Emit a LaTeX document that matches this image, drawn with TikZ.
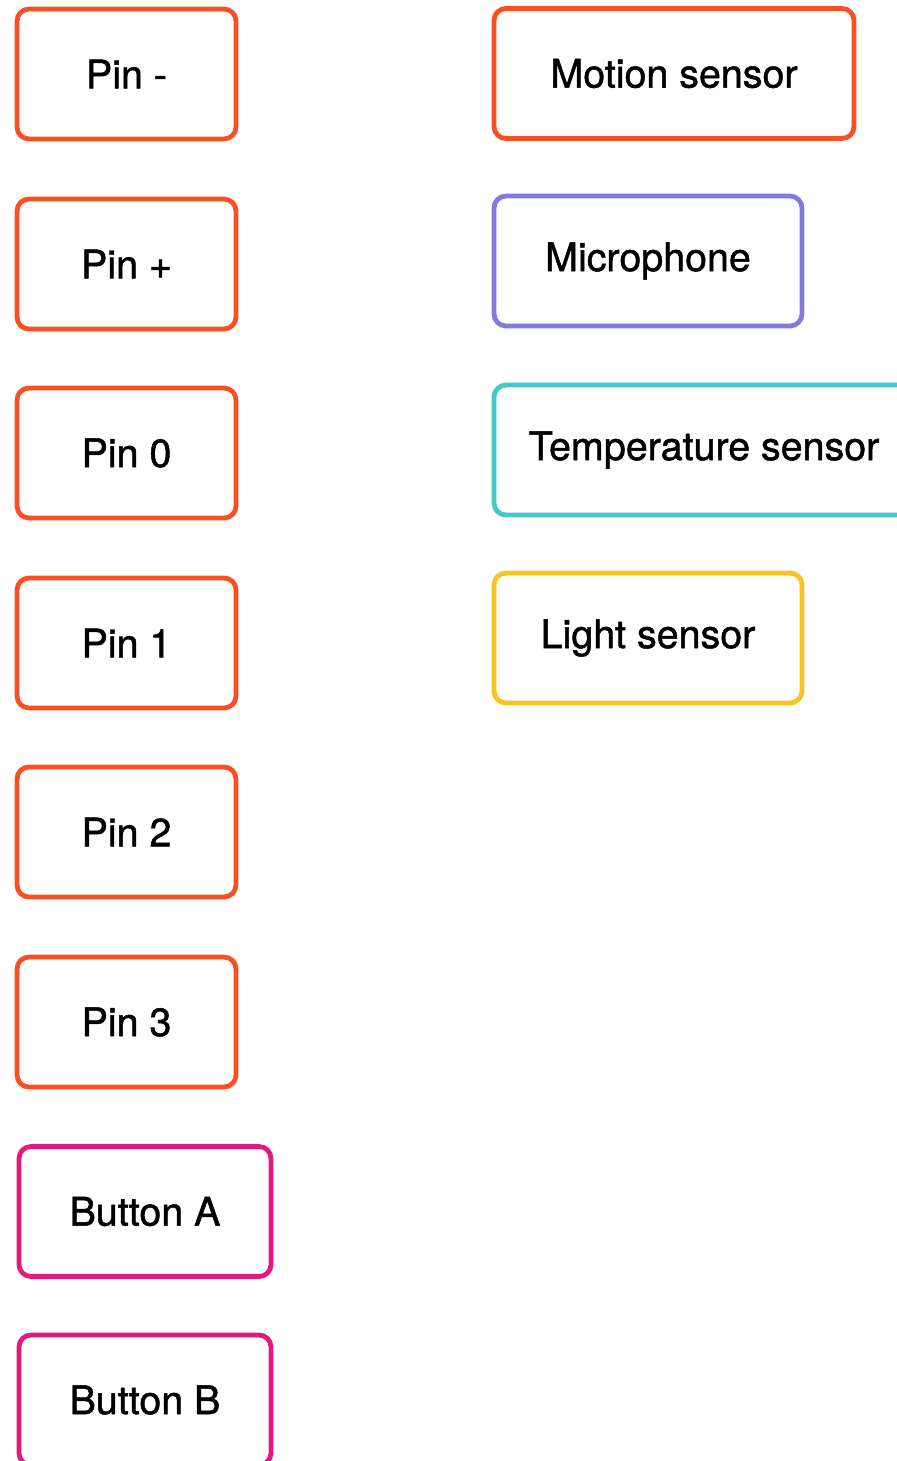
\documentclass[tikz,border=0pt]{standalone}
\usepackage{fontspec}
\setmainfont{TeX Gyre Heros}[FakeBold=1.2]
\usepackage{tikz}
\usetikzlibrary{positioning}
\definecolor{pinred}{HTML}{FA4E23}
\definecolor{micpurple}{HTML}{8479E1}
\definecolor{tempteal}{HTML}{45C8C8}
\definecolor{lightyellow}{HTML}{F8C421}
\definecolor{buttonpink}{HTML}{E3197F}
\tikzstyle{box} = [rectangle, rounded corners=6pt, line width=2.4pt, minimum height=65pt, text centered, fill=white, font=\fontsize{19.7}{23}\selectfont]
\tikzstyle{pinbox} = [box, draw=pinred, minimum width=109.5pt]
\tikzstyle{buttonbox} = [box, draw=buttonpink, minimum width=126pt]
\tikzstyle{sensorbox} = [box, minimum width=154pt]

\begin{document}
\begin{tikzpicture}[x=0.5pt, y=-0.5pt]
    \useasboundingbox (0,0) rectangle (897,1461);
    % pins and buttons
    \node (pinminus) [pinbox] at (126.5,74) {Pin -};
    \node (pinplus) [pinbox] at (126.5,264) {Pin +};
    \node (pin0) [pinbox] at (126.5,453) {Pin 0};
    \node (pin1) [pinbox] at (126.5,643) {Pin 1};
    \node (pin2) [pinbox] at (126.5,832) {Pin 2};
    \node (pin3) [pinbox] at (126.5,1022) {Pin 3};
    \node (buttonA) [buttonbox] at (145,1211.5) {Button A};
    \node (buttonB) [buttonbox] at (145,1400) {Button B};
    % sensors
    \node (motion) [sensorbox, draw=pinred, minimum width=180pt] at (674,73.5) {Motion sensor};
    \node (mic) [sensorbox, draw=micpurple] at (648,261) {Microphone};
    \node (temp) [sensorbox, draw=tempteal, minimum width=210pt] at (704,450) {Temperature sensor};
    \node (light) [sensorbox, draw=lightyellow] at (648,638) {Light sensor};
\end{tikzpicture}
\end{document}
